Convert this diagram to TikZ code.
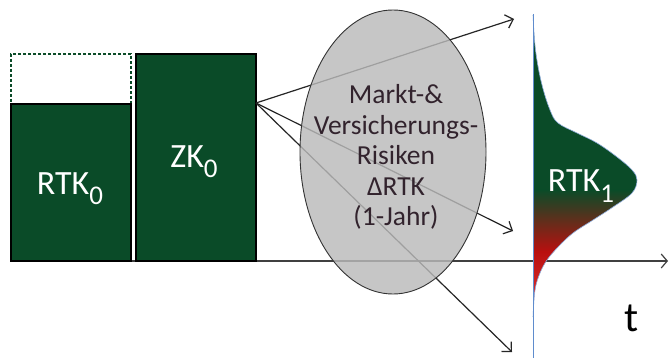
\documentclass[tikz,border=0pt]{standalone}
\usepackage{fontspec}
\setmainfont{Carlito}
\usetikzlibrary{arrows.meta,shapes.geometric}
\definecolor{boxgreen}{RGB}{10,75,40}
\definecolor{distbrown}{RGB}{80,52,30}
\definecolor{distred}{RGB}{185,15,15}
\definecolor{distred2}{RGB}{210,40,40}
\definecolor{distpink}{RGB}{225,120,130}
\definecolor{basblue}{RGB}{95,140,205}
\definecolor{risktext}{RGB}{50,35,45}
\newcommand{\subidx}[1]{\raisebox{-0.3em}{\fontsize{27}{27}\selectfont #1}}
\tikzset{
  greenbox/.style={draw=black, line width=1.6pt, fill=boxgreen, inner sep=0pt},
  boxlabel/.style={text=white, font=\fontsize{34}{38}\selectfont},
  arr/.style={draw=black!85, line width=1.2pt, -{Straight Barb[length=7pt,width=14pt,line width=1.2pt]}},
  axisline/.style={draw=black!75, line width=1.8pt, -{Straight Barb[length=6pt,width=14pt,line width=1.2pt]}},
  riskell/.style={ellipse, draw=black!80, line width=0.9pt, fill=black!27, fill opacity=0.82,
    inner sep=0pt},
}
\begin{document}
\begin{tikzpicture}[x=1pt,y=-1pt]
\useasboundingbox (0,0) rectangle (669,358);
\fill[white] (0,0) rectangle (669,358);

% axis
\coordinate (axstart) at (11,261);
\coordinate (axend) at (668,261);
\draw[axisline] (axstart) -- (axend);

% boxes
\node[draw=boxgreen, dash pattern=on 3pt off 2pt, line width=1.2pt, fill=white,
      minimum width=120pt, minimum height=50pt, inner sep=0pt] (reserve) at (71,79) {};
\node[greenbox, minimum width=120pt, minimum height=157pt] (rtk0) at (71,182.5) {};
\node[boxlabel] (rtk0lab) at (70,189) {RTK\subidx{0}};
\node[greenbox, minimum width=120pt, minimum height=207pt] (zk0) at (196,157.5) {};
\node[boxlabel] (zk0lab) at (194,162) {ZK\subidx{0}};

% arrows
\coordinate (src) at (256,103);
\coordinate (t1) at (514,19);
\coordinate (t2) at (513,231);
\coordinate (t3) at (512,352);
\draw[arr] (src) -- (t1);
\draw[arr] (src) -- (t2);
\draw[arr] (src) -- (t3);

% risk ellipse
\node[riskell, minimum width=186pt, minimum height=284pt] (risk) at (393,152) {};
\node[text=risktext, align=center, font=\fontsize{27.5}{30.5}\selectfont] (risklab) at (396,157)
  {Markt-\&\\Versicherungs-\\Risiken\\ΔRTK\\(1-Jahr)};

% distribution
\begin{scope}
\clip plot[smooth, tension=0.6] coordinates {
  (533,15) (535.5,50) (541.5,83) (550,110) (558,123) (577,133) (597,143) (617,157)
  (632,170) (637,180) (632,193) (613,207) (593,220) (573,233) (558,247) (547,260)
  (540,273) (535,290) (533,317)} -- cycle;
\fill[boxgreen] (530,0) rectangle (640,190);
\shade[top color=boxgreen, bottom color=distbrown] (530,189.5) rectangle (640,215);
\shade[top color=distbrown, bottom color=distred] (530,214.5) rectangle (640,252);
\shade[top color=distred, bottom color=distred2] (530,251.5) rectangle (640,290);
\shade[top color=distred2, bottom color=distpink] (530,289.5) rectangle (640,330);
\end{scope}
\draw[basblue!70, line width=0.6pt] plot[smooth, tension=0.6] coordinates {
  (533,15) (535.5,50) (541.5,83) (550,110) (558,123) (577,133) (597,143) (617,157)
  (632,170) (637,180) (632,193) (613,207) (593,220) (573,233) (558,247) (547,260)
  (540,273) (535,290) (533,317)};
\coordinate (btop) at (533,14);
\coordinate (bbot) at (533,358);
\draw[basblue, line width=1pt] (btop) -- (bbot);
\node[boxlabel] (rtk1lab) at (581,186) {RTK\subidx{1}};

\node[text=black, font=\fontsize{42}{44}\selectfont] (tlab) at (632,318) {t};
\end{tikzpicture}
\end{document}
